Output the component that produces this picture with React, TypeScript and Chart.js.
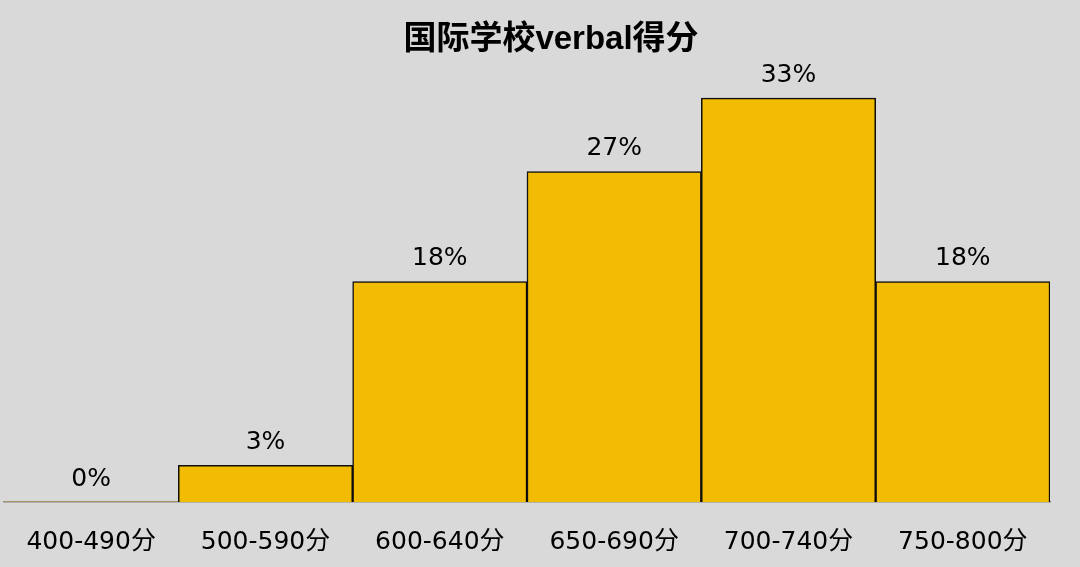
import React, { useEffect, useRef } from "react";
import { Chart, registerables } from "chart.js";

Chart.register(...registerables);

const chartTitle = "国际学校verbal得分";
const categories = ["400-490分", "500-590分", "600-640分", "650-690分", "700-740分", "750-800分"];
const values = [0, 3, 18, 27, 33, 18];
const valueLabels = ["0%", "3%", "18%", "27%", "33%", "18%"];

const BG = "#d9d9d9";
const BAR = "rgb(242,187,4)";
const LABEL_FONT = "'DejaVu Sans', 'Noto Sans CJK SC', sans-serif";

const shadowPlugin = {
  id: "barShadow",
  beforeDatasetsDraw(chart: any) {
    const ctx = chart.ctx;
    ctx.save();
    ctx.shadowColor = "rgba(0,0,0,0.35)";
    ctx.shadowBlur = 4;
    ctx.shadowOffsetX = 2;
    ctx.shadowOffsetY = 2;
  },
  afterDatasetsDraw(chart: any) {
    chart.ctx.restore();
  },
};

const labelPlugin = {
  id: "valueLabels",
  afterDraw(chart: any) {
    const ctx = chart.ctx;
    const meta = chart.getDatasetMeta(0);
    ctx.save();
    ctx.font = "25px " + LABEL_FONT;
    ctx.fillStyle = "#000";
    ctx.textAlign = "center";
    ctx.textBaseline = "middle";
    meta.data.forEach((el: any, i: number) => {
      ctx.fillText(valueLabels[i], el.x, el.y - 23);
    });
    // title
    ctx.font = "bold 33px Arial, 'Liberation Sans', 'Noto Sans CJK SC', sans-serif";
    ctx.fillText(chartTitle, 551, 40);
    ctx.restore();
  },
};

const bgPlugin = {
  id: "bg",
  beforeDraw(chart: any) {
    const ctx = chart.ctx;
    ctx.save();
    ctx.fillStyle = BG;
    ctx.fillRect(0, 0, chart.width, chart.height);
    ctx.restore();
  },
};

export default function App() {
  const ref = useRef<HTMLCanvasElement | null>(null);
  useEffect(() => {
    if (!ref.current) return;
    const chart = new Chart(ref.current, {
      type: "bar",
      data: {
        labels: categories,
        datasets: [
          {
            data: values,
            backgroundColor: BAR,
            borderColor: "#111",
            borderWidth: (c: any) => (values[c.dataIndex] === 0 ? 0 : 1.5),
            barPercentage: 1,
            categoryPercentage: 1,
          },
        ],
      },
      options: {
        responsive: false,
        animation: false,
        layout: { padding: { left: 4, right: 30, top: 61.4, bottom: 13 } },
        plugins: {
          legend: { display: false },
          tooltip: { enabled: false },
          title: { display: false },
        },
        scales: {
          x: {
            grid: { display: false, drawTicks: false },
            border: { display: true, color: "#8a8a8a", width: 1.5 },
            afterFit: (s: any) => {
              s.height = 52;
            },
            ticks: {
              color: "#000",
              padding: 25,
              font: { size: 25, family: LABEL_FONT },
            },
          },
          y: {
            display: false,
            min: 0,
            max: 36,
          },
        },
      },
      plugins: [bgPlugin, shadowPlugin, labelPlugin],
    });
    return () => chart.destroy();
  }, []);
  return (
    <div style={{ position: "absolute", left: 0, top: 0, width: 1080, height: 567, background: BG }}>
      <canvas ref={ref} width={1080} height={567} style={{ display: "block" }} />
    </div>
  );
}
